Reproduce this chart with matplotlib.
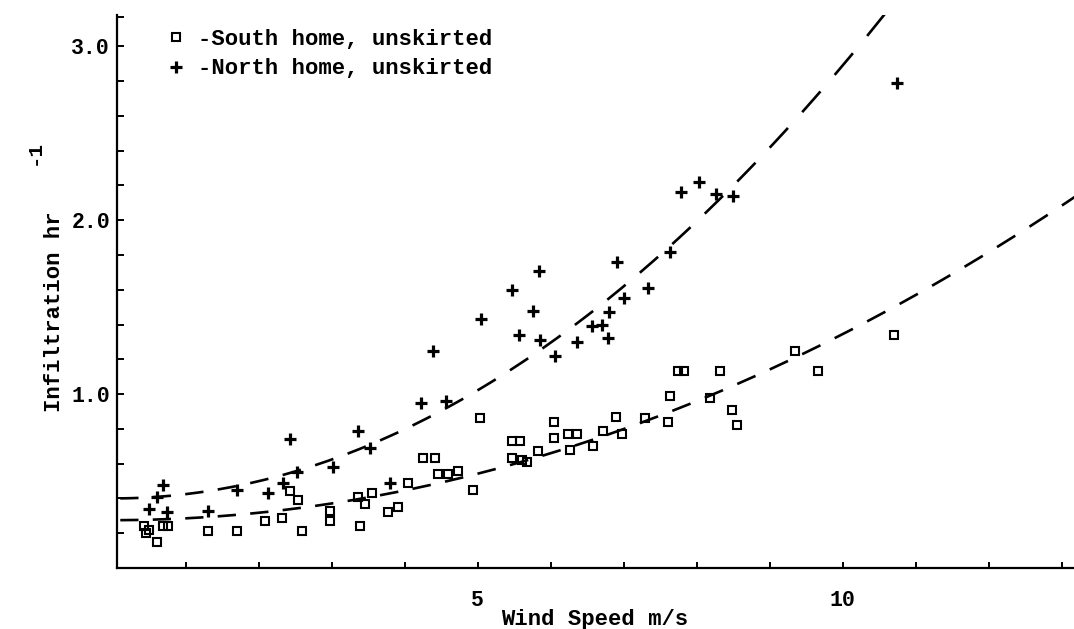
import numpy as np
import matplotlib
matplotlib.use("Agg")
import matplotlib.pyplot as plt
from matplotlib.lines import Line2D
from matplotlib.ticker import FixedLocator, NullFormatter

# Measured infiltration rate (hr^-1) against wind speed (m/s)
south_wind = [0.42, 0.45, 0.50, 0.60, 0.69, 0.76, 1.30, 1.70, 2.08, 2.32,
              2.42, 2.53, 2.59, 2.97, 2.97, 3.36, 3.45, 3.38, 3.55, 3.77,
              3.90, 4.04, 4.25, 4.41, 4.45, 4.59, 4.73, 4.93, 5.03, 5.47,
              5.58, 5.47, 5.60, 5.67, 5.82, 6.05, 6.05, 6.23, 6.36, 6.26,
              6.58, 6.71, 6.90, 6.97, 7.29, 7.60, 7.63, 7.74, 7.83, 8.32,
              8.18, 8.48, 8.55, 9.34, 9.66, 10.71]
south_infil = [0.24, 0.20, 0.22, 0.15, 0.24, 0.24, 0.21, 0.21, 0.27, 0.29,
               0.44, 0.39, 0.21, 0.33, 0.27, 0.41, 0.37, 0.24, 0.43, 0.32,
               0.35, 0.49, 0.63, 0.63, 0.54, 0.54, 0.56, 0.45, 0.86, 0.73,
               0.73, 0.63, 0.62, 0.61, 0.67, 0.84, 0.75, 0.77, 0.77, 0.68,
               0.70, 0.79, 0.87, 0.77, 0.86, 0.84, 0.99, 1.13, 1.13, 1.13,
               0.98, 0.91, 0.82, 1.25, 1.13, 1.34]

north_wind = [0.50, 0.60, 0.68, 0.74, 1.30, 1.70, 2.12, 2.33, 2.42, 2.52,
              3.01, 3.36, 3.52, 3.80, 4.22, 4.38, 4.56, 5.04, 5.47, 5.57,
              5.75, 5.84, 5.85, 6.06, 6.36, 6.57, 6.70, 6.80, 6.78, 6.91,
              7.00, 7.33, 7.63, 7.79, 8.03, 8.26, 8.49, 10.74]
north_infil = [0.34, 0.41, 0.48, 0.32, 0.33, 0.45, 0.43, 0.49, 0.74, 0.55,
               0.58, 0.79, 0.69, 0.49, 0.95, 1.25, 0.96, 1.43, 1.60, 1.34,
               1.48, 1.71, 1.31, 1.22, 1.30, 1.39, 1.40, 1.47, 1.32, 1.76,
               1.55, 1.61, 1.82, 2.16, 2.22, 2.15, 2.14, 2.79]

# Quadratic regression curves: infiltration = c0 + c2 * wind^2
south_fit = (0.275, 0.0107)
north_fit = (0.40, 0.0249)

legend_labels = ["-South home, unskirted", "-North home, unskirted"]
x_major = [5, 10]
x_major_labels = ["5", "10"]
x_minor = [1, 2, 3, 4, 6, 7, 8, 9, 11, 12, 13]
y_major = [1.0, 2.0, 3.0]
y_major_labels = ["1.0", "2.0", "3.0"]
y_minor = [0.2, 0.4, 0.6, 0.8, 1.2, 1.4, 1.6, 1.8, 2.2, 2.4, 2.6, 2.8, 3.17]

FONT = dict(family="Liberation Mono", weight="bold")
W, H = 1074, 629

fig = plt.figure(figsize=(W / 100, H / 100), dpi=100)
fig.patch.set_facecolor("white")
ax = fig.add_axes([117 / W, (H - 568) / H, 1 - 117 / W, (568 - 15) / H])
ax.set_xlim(0.055, 13.17)
ax.set_ylim(0.0, 3.18)

for side in ("top", "right"):
    ax.spines[side].set_visible(False)
for side in ("left", "bottom"):
    ax.spines[side].set_linewidth(1.6)
    ax.spines[side].set_color("black")


def pen_dashes(fit, x_start, x_end, period=0.445, on=0.25):
    """Break a fitted curve into dashes of fixed horizontal period."""
    c0, c2 = fit
    xs, ys = [], []
    x0 = x_start
    while x0 < x_end:
        seg = np.linspace(x0, min(x0 + on, x_end), 16)
        xs.extend(seg)
        ys.extend(c0 + c2 * seg ** 2)
        xs.append(np.nan)
        ys.append(np.nan)
        x0 += period
    return np.array(xs), np.array(ys)


for fit in (north_fit, south_fit):
    cx, cy = pen_dashes(fit, 0.10, 13.2)
    ax.plot(cx, cy, color="black", lw=1.9, solid_capstyle="butt")

ax.plot(south_wind, south_infil, ls="none", marker="s", ms=5.6,
        mfc="none", mec="black", mew=1.5)
ax.plot(north_wind, north_infil, ls="none", marker="+", ms=8.5,
        mec="black", mew=2.3)

ax.xaxis.set_major_locator(FixedLocator(x_major))
ax.set_xticklabels(x_major_labels, fontdict=dict(size=15.5, **FONT))
ax.xaxis.set_minor_locator(FixedLocator(x_minor))
ax.yaxis.set_major_locator(FixedLocator(y_major))
ax.set_yticklabels(y_major_labels, fontdict=dict(size=15.5, **FONT))
ax.yaxis.set_minor_locator(FixedLocator(y_minor))
ax.yaxis.set_minor_formatter(NullFormatter())
ax.xaxis.set_minor_formatter(NullFormatter())

ax.tick_params(axis="x", which="both", direction="in", length=4, width=1.4,
               pad=16, color="black")
ax.tick_params(axis="y", which="both", direction="in", length=5, width=1.4,
               pad=5, color="black")

fig.text(595 / W, 1 - 620 / H, "Wind Speed m/s", ha="center", va="center",
         fontsize=16, **FONT)
fig.text(55 / W, 1 - 312 / H, "Infiltration hr", ha="center", va="center",
         rotation=90, fontsize=16, **FONT)
fig.text(34 / W, 1 - 152 / H, "-1", ha="center", va="center",
         rotation=90, fontsize=15, **FONT)

handles = [
    Line2D([], [], ls="none", marker="s", ms=5.6, mfc="none", mec="black", mew=1.5),
    Line2D([], [], ls="none", marker="+", ms=8.5, mec="black", mew=2.3),
]
ax.legend(handles, legend_labels, loc="upper left",
          bbox_to_anchor=(165 / W, 1 - 29 / H), bbox_transform=fig.transFigure,
          frameon=False, handlelength=1.0, handletextpad=0.5, borderpad=0,
          borderaxespad=0, labelspacing=0.38,
          prop=dict(size=16, **FONT))

fig.savefig("out.png", dpi=100, facecolor="white")
